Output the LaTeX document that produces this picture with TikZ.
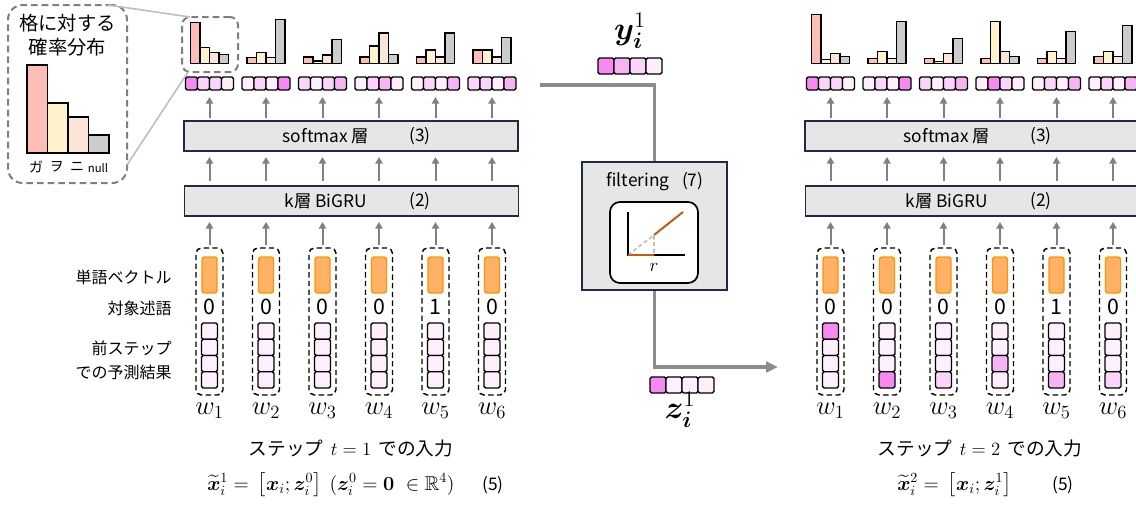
\RequirePackage{fix-cm}
\documentclass[tikz,border=0pt]{standalone}
\usepackage{amsmath,amssymb}
\usepackage{bm}
\usepackage[no-math]{fontspec}
\newfontfamily\jp{Noto Sans CJK JP}
\usetikzlibrary{arrows.meta,calc}
\definecolor{vA}{HTML}{F78AF2}
\definecolor{vB}{HTML}{F6B4F4}
\definecolor{vC}{HTML}{FAD4FA}
\definecolor{vD}{HTML}{FDEFFC}
\definecolor{hA}{HTML}{FFBDB8}
\definecolor{hB}{HTML}{FFF2CC}
\definecolor{hC}{HTML}{FCE4D6}
\definecolor{hD}{HTML}{CCCCCC}
\definecolor{boxfill}{HTML}{E6E6E6}
\definecolor{boxline}{HTML}{1F2A44}
\definecolor{arrgray}{HTML}{808080}
\definecolor{flowgray}{HTML}{8C8C8C}
\definecolor{orfill}{HTML}{FFB266}
\definecolor{orline}{HTML}{FF9300}
\definecolor{plotor}{HTML}{C55A11}
\definecolor{zoomgray}{HTML}{BFBFBF}
\definecolor{insetgray}{HTML}{7F7F7F}

\newcommand\hvec[6]{\foreach \cc [count=\jj from 0] in {#3,#4,#5,#6}
  {\draw[cellst, fill=\cc] (#1-24+12*\jj,#2-6.5) rectangle ++(12,13);}}
\newcommand\vvec[6]{\foreach \cc [count=\jj from 0] in {#3,#4,#5,#6}
  {\draw[cellst, fill=\cc] (#1-8,#2+16.25*\jj) rectangle ++(16,16.25);}}
\newcommand\hist[5]{%
  \draw[bar, fill=hA] (#1-19,63.5) rectangle ++(9.5,-#2);
  \draw[bar, fill=hB] (#1-9.5,63.5) rectangle ++(9.5,-#3);
  \draw[bar, fill=hC] (#1,63.5) rectangle ++(9.5,-#4);
  \draw[bar, fill=hD] (#1+9.5,63.5) rectangle ++(9.5,-#5);}

\begin{document}
\begin{tikzpicture}[x=0.75pt,y=-0.75pt,
  cellst/.style={draw=black, line width=1.1pt, rounded corners=1.2pt},
  bar/.style={draw=black, line width=1.1pt},
  vecnode/.style={minimum width=36pt, minimum height=9.75pt, inner sep=0pt, outer sep=0pt},
  colbox/.style={draw=black, dash pattern=on 4pt off 2.5pt, line width=1.1pt, rounded corners=4pt, minimum width=20.25pt, minimum height=110.25pt, inner sep=0pt, outer sep=0pt},
  wordvec/.style={draw=orline, fill=orfill, line width=1.1pt, rounded corners=2pt, minimum width=11.25pt, minimum height=27pt, inner sep=0pt},
  digit/.style={font=\jp\fontsize{16}{16}\selectfont, inner sep=0pt},
  wlab/.style={font=\fontsize{20}{20}\selectfont, inner sep=0pt},
  layer/.style={draw=boxline, fill=boxfill, line width=1pt, minimum width=250.5pt, minimum height=22.5pt, inner sep=0pt, outer sep=0pt},
  layertxt/.style={font=\jp\fontsize{13}{13}\selectfont, inner sep=0pt},
  lab/.style={font=\jp\fontsize{12}{18}\selectfont, inner sep=0pt, anchor=east, align=right},
  arr/.style={draw=arrgray, line width=1.5pt, -{Triangle[length=5pt,width=5.5pt]}},
  flow/.style={draw=flowgray, line width=2.3pt},
  dashbox/.style={draw=insetgray, dash pattern=on 5pt off 3pt, line width=1.5pt, inner sep=0pt, outer sep=0pt},
  zoomline/.style={draw=zoomgray, line width=1.2pt},
  title/.style={font=\jp\fontsize{14}{14}\selectfont, inner sep=0pt},
  eqno/.style={font=\jp\fontsize{13}{13}\selectfont, inner sep=0pt},
  formula/.style={font=\fontsize{15}{15}\selectfont, inner sep=0pt},
  biglab/.style={font=\fontsize{24}{24}\selectfont, inner sep=0pt}
]
\useasboundingbox (0,0) rectangle (1136,504);
\clip (0,0) rectangle (1136,504);

% ---------------- inset ----------------
\node[dashbox, rounded corners=11pt, minimum width=89.25pt, minimum height=133.5pt] (inset) at (67.5,94) {};
\node[font=\jp\fontsize{14.5}{18}\selectfont, align=center, inner sep=0pt] (insettitle) at (67.5,35) {格に対する\\確率分布};
\draw[bar, fill=hA] (27,153) rectangle (47.5,65);
\draw[bar, fill=hB] (47.5,153) rectangle (68,103);
\draw[bar, fill=hC] (68,153) rectangle (88.5,117);
\draw[bar, fill=hD] (88.5,153) rectangle (109,135);
\node[font=\jp\fontsize{10.5}{12}\selectfont, inner sep=0pt] (lga) at (36,167) {ガ};
\node[font=\jp\fontsize{10.5}{12}\selectfont, inner sep=0pt] (lwo) at (56.5,167) {ヲ};
\node[font=\jp\fontsize{10.5}{12}\selectfont, inner sep=0pt] (lni) at (77,167) {ニ};
\node[font=\jp\fontsize{8.5}{10}\selectfont, inner sep=0pt] (lnull) at (98,168) {null};
\node[dashbox, rounded corners=6pt, minimum width=42pt, minimum height=41.25pt] (zoombox) at (210,44.5) {};
\draw[zoomline] ($(inset.north east)+(-19,0)$) -- ($(zoombox.north west)+(8,0)$);
\draw[zoomline] ($(inset.south east)+(0,-18)$) -- ($(zoombox.south west)+(6,0)$);

% ---------------- left panel ----------------
\node[layer] (smL) at (351,136) {};
\node[layertxt] (smLt) at (326,136) {softmax 層};
\node[layertxt] (smLn) at (420,136) {(3)};
\node[layer] (grL) at (351.5,201) {};
\node[layertxt] (grLt) at (326,201) {k層 BiGRU};
\node[layertxt] (grLn) at (420,201) {(2)};

\foreach \kk/\dg/\pa/\pb/\pc/\pd/\qa/\qb/\qc/\qd in {
  1/0/41/16/11/9/vA/vC/vC/vD,
  2/0/6/11/6/44/vD/vC/vD/vA,
  3/0/6.7/2.3/8.3/24/vC/vD/vC/vB,
  4/0/6.7/17.7/30.7/9/vD/vC/vB/vD,
  5/1/6.7/13.3/6.7/30.7/vD/vC/vD/vB,
  6/0/13.3/13.3/6.7/26/vC/vC/vD/vB}{
  \pgfmathsetmacro\cx{209.5+56.5*(\kk-1)}
  \hist{\cx}{\pa}{\pb}{\pc}{\pd}
  \node[vecnode] (vL\kk) at (\cx,83.5) {};
  \hvec{\cx}{83.5}{\qa}{\qb}{\qc}{\qd}
  \node[colbox] (cL\kk) at (\cx,321.5) {};
  \node[wordvec] (eL\kk) at (\cx,275) {};
  \node[digit] (dL\kk) at (\cx,307) {\dg};
  \vvec{\cx}{323}{vD}{vD}{vD}{vD}
  \node[wlab] (wL\kk) at (\cx,411) {$w_{\kk}$};
}
\foreach \kk in {1,...,6}{
  \draw[arr, shorten <=2.25pt, shorten >=5.25pt] (smL.north -| vL\kk.south) -- (vL\kk.south);
  \draw[arr, shorten <=3.75pt, shorten >=4.5pt] (grL.north -| vL\kk.south) -- (smL.south -| vL\kk.south);
  \draw[arr, shorten <=2.25pt, shorten >=4.5pt] (cL\kk.north) -- (grL.south -| cL\kk.north);
}
\node[lab] (labw) at (172,277) {単語ベクトル};
\node[lab] (labp) at (172,308) {対象述語};
\node[lab] (labs) at (172,360.5) {前ステップ\\での予測結果};

\node[title] (titL) at (351,448) {ステップ\,\ $t = 1$\ \,での入力};
\node[formula, anchor=west] (frmL) at (207,485) {$\widetilde{\bm{x}}_i^{1} = \,\bigl[\bm{x}_i;\bm{z}_i^{0}\bigr]$\hspace{6pt}$(\bm{z}_i^{0} = \bm{0}\ \in\mathbb{R}^{4})$};
\node[eqno] (eqL) at (493,485) {(5)};

% ---------------- middle ----------------
\node[biglab] (ylab) at (630,31) {$\bm{y}_{\bm{i}}^{1}$};
\node[inner sep=0pt, minimum width=48pt, minimum height=12pt] (yvec) at (630,66) {};
\foreach \cc [count=\jj from 0] in {vA,vB,vC,vD}
  {\draw[cellst, fill=\cc] (598+16*\jj,58) rectangle ++(16,16);}
\node[draw=boxline, fill=boxfill, line width=1pt, minimum width=108.75pt, minimum height=96pt, inner sep=0pt] (filt) at (654.5,226) {};
\node[layertxt] (filtt) at (655,182) {filtering\enspace\ (7)};
\node[draw=black, fill=white, line width=1.3pt, rounded corners=7.5pt, minimum width=66pt, minimum height=60.75pt, inner sep=0pt] (plot) at (654,242.5) {};
\draw[draw=black!25, line width=1.3pt, dash pattern=on 3pt off 2pt] (628,255) -- (654,235) -- (654,255);
\draw[black, line width=1.5pt] (628,212) -- (628,255) -- (685,255);
\draw[plotor, line width=1.5pt] (628,255) -- (654,255);
\draw[plotor, line width=1.5pt] (654,235) -- (683,212);
\node[font=\fontsize{14}{14}\selectfont, inner sep=0pt] (rlab) at (654,267) {$r$};
\coordinate (fstart) at (540,85);
\coordinate (fend) at (778,367);
\draw[flow] (fstart) -| (filt.north);
\draw[flow, -{Triangle[length=9pt,width=8pt]}] (filt.south) |- (fend);
\node[inner sep=0pt, minimum width=48pt, minimum height=12pt] (zvec) at (682,385) {};
\foreach \cc [count=\jj from 0] in {vA,vD,vD,vD}
  {\draw[cellst, fill=\cc] (650+16*\jj,377) rectangle ++(16,16);}
\node[biglab] (zlab) at (680,410) {$\bm{z}_{\bm{i}}^{1}$};

% ---------------- right panel ----------------
\node[layer] (smR) at (972,136) {};
\node[layertxt] (smRt) at (947,136) {softmax 層};
\node[layertxt] (smRn) at (1041,136) {(3)};
\node[layer] (grR) at (972.5,201) {};
\node[layertxt] (grRt) at (947,201) {k層 BiGRU};
\node[layertxt] (grRn) at (1041,201) {(2)};

\foreach \kk/\dg/\pa/\pb/\pc/\pd/\qa/\qb/\qc/\qd/\ra/\rb/\rc/\rd in {
  1/0/49/4/10/7/vA/vC/vC/vD/vA/vD/vD/vD,
  2/0/5/12/5/42/vD/vC/vD/vA/vD/vD/vD/vA,
  3/0/5/2/10/25/vC/vD/vC/vB/vD/vD/vD/vC,
  4/0/5/42/12/7/vD/vA/vC/vD/vD/vD/vB/vD,
  5/1/5/12/5/32/vD/vC/vD/vB/vD/vD/vD/vB,
  6/0/7/12/7/38/vD/vC/vD/vB/vD/vD/vD/vC}{
  \pgfmathsetmacro\cx{830.5+56.5*(\kk-1)}
  \hist{\cx}{\pa}{\pb}{\pc}{\pd}
  \node[vecnode] (vR\kk) at (\cx,83.5) {};
  \hvec{\cx}{83.5}{\qa}{\qb}{\qc}{\qd}
  \node[colbox] (cR\kk) at (\cx,321.5) {};
  \node[wordvec] (eR\kk) at (\cx,275) {};
  \node[digit] (dR\kk) at (\cx,307) {\dg};
  \vvec{\cx}{323}{\ra}{\rb}{\rc}{\rd}
  \node[wlab] (wR\kk) at (\cx,411) {$w_{\kk}$};
}
\foreach \kk in {1,...,6}{
  \draw[arr, shorten <=2.25pt, shorten >=5.25pt] (smR.north -| vR\kk.south) -- (vR\kk.south);
  \draw[arr, shorten <=3.75pt, shorten >=4.5pt] (grR.north -| vR\kk.south) -- (smR.south -| vR\kk.south);
  \draw[arr, shorten <=2.25pt, shorten >=4.5pt] (cR\kk.north) -- (grR.south -| cR\kk.north);
}
\node[title] (titR) at (980,448) {ステップ\,\ $t = 2$\ \,での入力};
\node[formula, anchor=west] (frmR) at (897,485) {$\widetilde{\bm{x}}_i^{2} = \,\bigl[\bm{x}_i;\bm{z}_i^{1}\bigr]$};
\node[eqno] (eqR) at (1063,485) {(5)};
\end{tikzpicture}
\end{document}
